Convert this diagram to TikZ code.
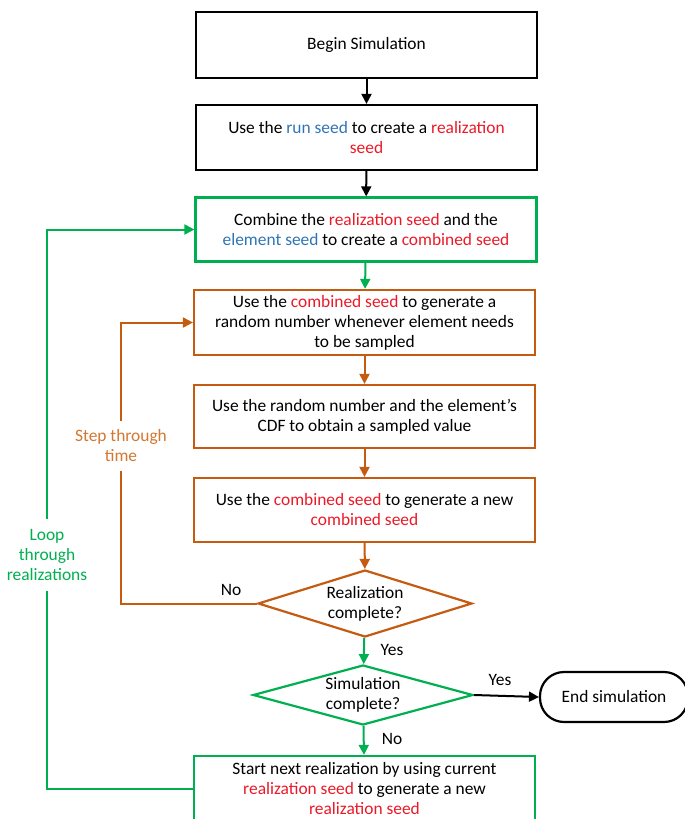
\documentclass[tikz,border=0pt]{standalone}
\usepackage{fontspec}
\setmainfont{Carlito}
\usetikzlibrary{shapes.geometric,arrows.meta}
\definecolor{gr}{RGB}{0,176,80}
\definecolor{orng}{RGB}{197,90,17}
\definecolor{lorng}{RGB}{210,120,50}
\definecolor{redt}{RGB}{235,25,40}
\definecolor{bluet}{RGB}{46,117,182}
\newcommand{\rd}[1]{\textcolor{redt}{#1}}
\newcommand{\bl}[1]{\textcolor{bluet}{#1}}
\tikzset{
  box/.style={draw,rectangle,line width=2.2pt,minimum width=341pt,inner sep=0pt,align=center,font=\fontsize{17.4}{20}\selectfont},
  dia/.style={draw,diamond,line width=2.2pt,inner sep=0pt},
  txt/.style={align=center,font=\fontsize{17.4}{20}\selectfont},
  arr/.style={line width=2pt,-{Triangle[length=10pt,width=10pt]}},
  lbl/.style={align=center,font=\fontsize{17.4}{20}\selectfont,fill=white}
}
\begin{document}
\begin{tikzpicture}[x=1pt,y=-1pt]
\useasboundingbox (0,0) rectangle (685,819);
\clip (0,0) rectangle (685,819);
\node[box,minimum height=66pt] (b1) at (366.5,45) {Begin Simulation};
\node[box,minimum height=65pt] (b2) at (366.5,137.5) {Use the \bl{run seed} to create a \rd{realization}\\\rd{seed}};
\node[box,draw=gr,minimum height=64pt] (b3) at (366,229.5) {Combine the \rd{realization seed} and the\\\bl{element seed} to create a \rd{combined seed}};
\node[box,draw=orng,minimum height=65pt] (b4) at (364.5,322.5) {Use the \rd{combined seed} to generate a\\random number whenever element needs\\to be sampled};
\node[box,draw=orng,minimum height=63pt] (b5) at (364.5,416.5) {Use the random number and the element's\\CDF to obtain a sampled value};
\node[box,draw=orng,minimum height=64pt] (b6) at (364.5,510) {Use the \rd{combined seed} to generate a new\\\rd{combined seed}};
\node[dia,draw=orng,minimum width=214pt,minimum height=67pt] (d1) at (365,603.5) {};
\node[txt] (d1t) at (d1) {Realization\\complete?};
\node[dia,draw=gr,minimum width=220pt,minimum height=60pt] (d2) at (363,695) {};
\node[txt] (d2t) at (d2) {Simulation\\complete?};
\node[box,draw=gr,minimum height=66pt] (b7) at (364.5,789) {Start next realization by using current\\\rd{realization seed} to generate a new\\\rd{realization seed}};
\node[draw,line width=2.2pt,rounded corners=24pt,minimum width=148pt,minimum height=50pt,txt] (e) at (614,697) {End simulation};
\draw[arr] (b1) -- (b2);
\draw[arr] (b2) -- (b3);
\draw[arr,gr] (b3) -- (b4);
\draw[arr,orng] (b4) -- (b5);
\draw[arr,orng] (b5) -- (b6);
\draw[arr,orng] (b6) -- (d1);
\draw[arr,gr] (d1) -- (d2);
\draw[arr,gr] (d2) -- (b7);
\draw[arr] (d2.east) -- (e.west);
\coordinate (o1) at (121,603.5);
\coordinate (o2) at (121,322.5);
\draw[arr,orng] (d1.west) -- (o1) -- (o2) -- (b4.west);
\coordinate (g1) at (47,789);
\coordinate (g2) at (47,229.5);
\draw[arr,gr] (b7.west) -- (g1) -- (g2) -- (b3.west);
\node[lbl,text=lorng,inner xsep=1pt,inner ysep=9pt] (st) at (121,446) {Step through\\time};
\node[lbl,text=gr,inner xsep=1pt,inner ysep=10pt] (lt) at (47,555) {Loop\\through\\realizations};
\node[txt] (no1) at (231,590) {No};
\node[txt] (yes1) at (392,650) {Yes};
\node[txt] (yes2) at (500,680) {Yes};
\node[txt] (no2) at (392,739) {No};
\end{tikzpicture}
\end{document}
